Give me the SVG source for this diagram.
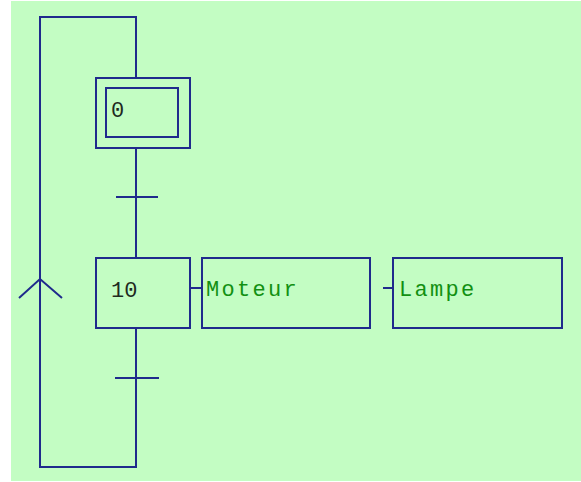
<svg xmlns="http://www.w3.org/2000/svg" width="581" height="482" viewBox="0 0 581 482">
<style>
.ln{fill:none;stroke:#1f2a8c;stroke-width:2}
.num{font-family:"Liberation Mono",monospace;font-size:22px;fill:#1e2a1e}
.act{font-family:"Liberation Mono",monospace;font-size:22px;fill:#129012;letter-spacing:2.3px}
</style>
<rect x="0" y="0" width="581" height="482" fill="#ffffff"/>
<rect x="11" y="1" width="570" height="480" fill="#c3fdc3"/>
<g id="connectors">
<path class="ln" d="M136,78 V17 H40 V467 H136 V328"/>
<path class="ln" d="M19,298 L40,279 L62,298"/>
<path class="ln" d="M136,148 V258"/>
<path class="ln" d="M116,197 H158"/>
<path class="ln" d="M115,378 H159"/>
<path class="ln" d="M190,288 H202"/>
<path class="ln" d="M383,288 H393"/>
</g>
<g id="step0">
<rect class="ln" x="96" y="78" width="94" height="70"/>
<rect class="ln" x="106" y="88" width="72" height="49"/>
<text class="num" x="111" y="117">0</text>
</g>
<g id="step10">
<rect class="ln" x="96" y="258" width="94" height="70"/>
<text class="num" x="111" y="297">10</text>
</g>
<g id="action-moteur">
<rect class="ln" x="202" y="258" width="168" height="70"/>
<text class="act" x="206" y="296">Moteur</text>
</g>
<g id="action-lampe">
<rect class="ln" x="393" y="258" width="169" height="70"/>
<text class="act" x="399" y="296">Lampe</text>
</g>
</svg>
